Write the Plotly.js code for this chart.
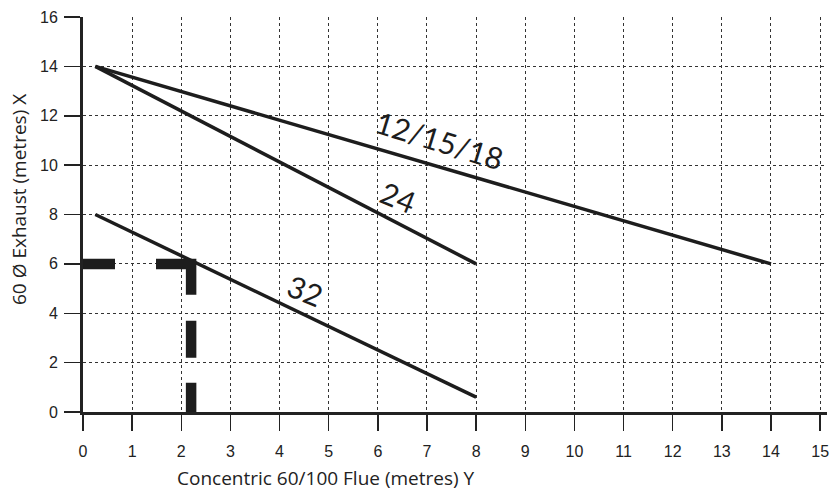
<!DOCTYPE html>
<html>
<head>
<meta charset="utf-8">
<script src="https://cdn.plot.ly/plotly-3.0.1.min.js"></script>
<style>html,body{margin:0;padding:0;background:#fff;}#chart{width:831px;height:490px;}</style>
</head>
<body>
<div id="chart"></div>
<script>
// ---- data ----
const xTickVals = [0,1,2,3,4,5,6,7,8,9,10,11,12,13,14,15];
const yTickVals = [0,2,4,6,8,10,12,14,16];
const seriesNames = ['12/15/18', '24', '32'];
const seriesX = [[0.25, 14], [0.25, 8], [0.25, 8]];
const seriesY = [[14, 6], [14, 6], [8, 0.6]];
const guideX = 2.2;
const guideY = 6;
const xTitle = 'Concentric 60/100 Flue (metres) Y';
const yTitle = '60 Ø Exhaust (metres) X';

const ink = '#1d1d1d';
const traces = seriesNames.map((n, i) => ({
  type: 'scatter', mode: 'lines', name: n,
  x: seriesX[i], y: seriesY[i],
  line: {color: ink, width: 3.5},
  hoverinfo: 'skip'
}));
traces.push({
  type: 'scatter', mode: 'lines', name: 'guide',
  x: [0, guideX, guideX], y: [guideY, guideY, 0],
  line: {color: ink, width: 10.5, dash: '32px,41px,66px,26px,37px,25px,40px'},
  hoverinfo: 'skip'
});

const labelFont = {family: 'Lato, "Open Sans", sans-serif', size: 30, color: ink};
const tickFont = {family: '"Liberation Sans", Arial, sans-serif', size: 16, color: '#222'};
const titleFont = {family: '"Open Sans", Lato, sans-serif', size: 19, color: '#222'};

const layout = {
  width: 831, height: 490,
  margin: {l: 83, r: 4, t: 17, b: 78},
  paper_bgcolor: '#fff', plot_bgcolor: '#fff',
  showlegend: false,
  xaxis: {
    range: [0, 15.14], tickmode: 'array', tickvals: xTickVals, ticktext: xTickVals.map(String),
    ticks: 'outside', ticklen: 16, tickwidth: 1.5, tickcolor: '#222',
    tickfont: tickFont, ticklabelstandoff: 7,
    showgrid: true, gridcolor: '#333', gridwidth: 1, griddash: '3px,3px',
    zeroline: false,
    showline: true, linecolor: '#222', linewidth: 3
  },
  yaxis: {
    range: [0, 16], tickmode: 'array', tickvals: yTickVals, ticktext: yTickVals.map(String),
    ticks: 'outside', ticklen: 16, tickwidth: 1.5, tickcolor: '#222',
    tickfont: tickFont, ticklabelstandoff: 3,
    showgrid: true, gridcolor: '#333', gridwidth: 1, griddash: '3px,3px',
    zeroline: false,
    showline: true, linecolor: '#222', linewidth: 3
  },
  annotations: [
    {x: 7.27, y: 11.02, xref: 'x', yref: 'y', text: seriesNames[0], showarrow: false, textangle: 17, font: labelFont},
    {x: 6.42, y: 8.7, xref: 'x', yref: 'y', text: seriesNames[1], showarrow: false, textangle: 22, font: labelFont},
    {x: 4.52, y: 4.93, xref: 'x', yref: 'y', text: seriesNames[2], showarrow: false, textangle: 22, font: labelFont},
    {x: (326 - 83) / 744, y: -(478 - 412) / 395, xref: 'paper', yref: 'paper',
      text: xTitle, showarrow: false, font: titleFont, xanchor: 'center', yanchor: 'middle'},
    {x: -(83 - 19) / 744, y: (412 - 200) / 395, xref: 'paper', yref: 'paper',
      text: yTitle, showarrow: false, font: titleFont, textangle: -90, xanchor: 'center', yanchor: 'middle'}
  ]
};

Plotly.newPlot('chart', traces, layout, {staticPlot: true, displayModeBar: false});
</script>
</body>
</html>
